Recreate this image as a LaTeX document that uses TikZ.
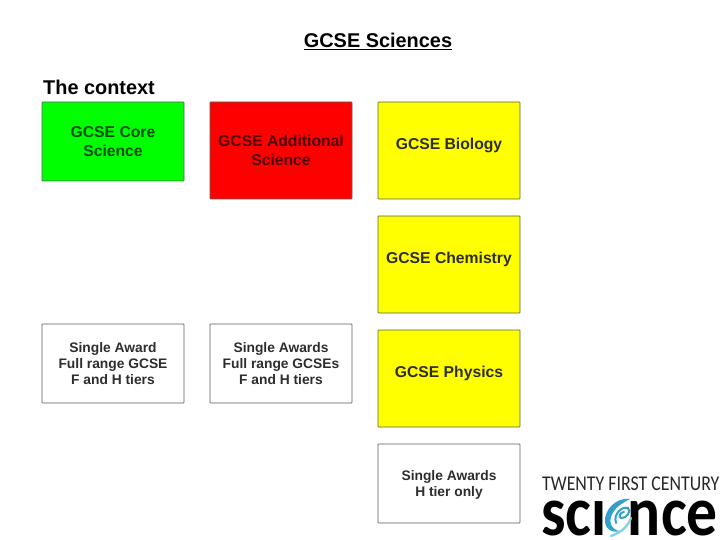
\documentclass[tikz,border=0pt]{standalone}
\usepackage{fontspec}
\setmainfont{Liberation Sans}
\newfontfamily\logofont{Carlito}
\usetikzlibrary{arrows.meta,calc}
\definecolor{coregreen}{RGB}{0,255,0}
\definecolor{addred}{RGB}{255,0,0}
\definecolor{sepyellow}{RGB}{255,255,0}
\definecolor{boxedge}{RGB}{85,100,85}
\definecolor{labelgrey}{RGB}{45,45,45}
\definecolor{swirlblue}{RGB}{50,160,200}
\definecolor{swirlpale}{RGB}{130,205,225}
\tikzset{course/.style={draw=boxedge,line width=0.7pt,rounded corners=0.6pt,minimum width=142pt,
  align=center,inner sep=0pt,font=\fontsize{15.7}{19}\selectfont\bfseries,text=labelgrey},
 tall/.style={course,minimum height=97pt},
 short/.style={course,minimum height=79pt},
 raised/.style={text depth=13pt},
 lowered/.style={text depth=0pt},
 award/.style={short,font=\fontsize{13.8}{16.4}\selectfont\bfseries},
 heading/.style={font=\fontsize{19.9}{23}\selectfont\bfseries,inner sep=0pt}}

\begin{document}
\begin{tikzpicture}[x=1pt,y=-1pt]
\useasboundingbox (0,0) rectangle (720,540);
\node[heading,anchor=base] (title) at (378,47.5) {\underline{GCSE Sciences}};
\node[heading,anchor=base west] (context) at (43,95) {The context};
\node[short,fill=coregreen,text=black!70!green] (core) at (113,141.5) {GCSE Core\\Science};
\node[tall,fill=addred,text=black!70!red] (additional) at (281,150.5) {GCSE Additional\\Science};
\node[tall,raised,fill=sepyellow] (biology) at (449,150.5) {GCSE Biology};
\node[tall,raised,fill=sepyellow] (chemistry) at (449,264.5) {GCSE Chemistry};
\node[tall,raised,fill=sepyellow] (physics) at (449,378.5) {GCSE Physics};
\node[award] (coreaward) at (113,363.5) {Single Award\\Full range GCSE\\F and H tiers};
\node[award] (addaward) at (281,363.5) {Single Awards\\Full range GCSEs\\F and H tiers};
\node[award,lowered] (hier) at (449,483.5) {Single Awards\\H tier only};
% logo
\node[anchor=base west,inner sep=0pt,font=\logofont\fontsize{21}{22}\selectfont,text=black!85,xscale=.85] (strap) at (542,490) {TWENTY FIRST CENTURY};
\node[anchor=base west,inner sep=0pt,font=\logofont\fontsize{70}{70}\selectfont\bfseries,xscale=.88] (sci) at (541,535) {scı};
\node[anchor=base east,inner sep=0pt,font=\logofont\fontsize{70}{70}\selectfont\bfseries,xscale=.88] (nce) at (718,535) {nce};
\fill[swirlblue] (630,499) .. controls (616,497) and (604,510) .. (605,522) .. controls (606,530) and (612,533) .. (620,531) .. controls (612,530) and (609,524) .. (611,517) .. controls (614,508) and (622,503) .. (630,499) -- cycle;
\draw[swirlblue,line width=2pt,line cap=round] (616,523) .. controls (613,514) and (622,506) .. (628,508) .. controls (632,511) and (626,519) .. (621,518) .. controls (618,517) and (620,512) .. (624,512);
\draw[swirlpale,line width=2.2pt,line cap=round] (631,518) .. controls (628,526) and (622,532) .. (611,536);
\end{tikzpicture}
\end{document}
